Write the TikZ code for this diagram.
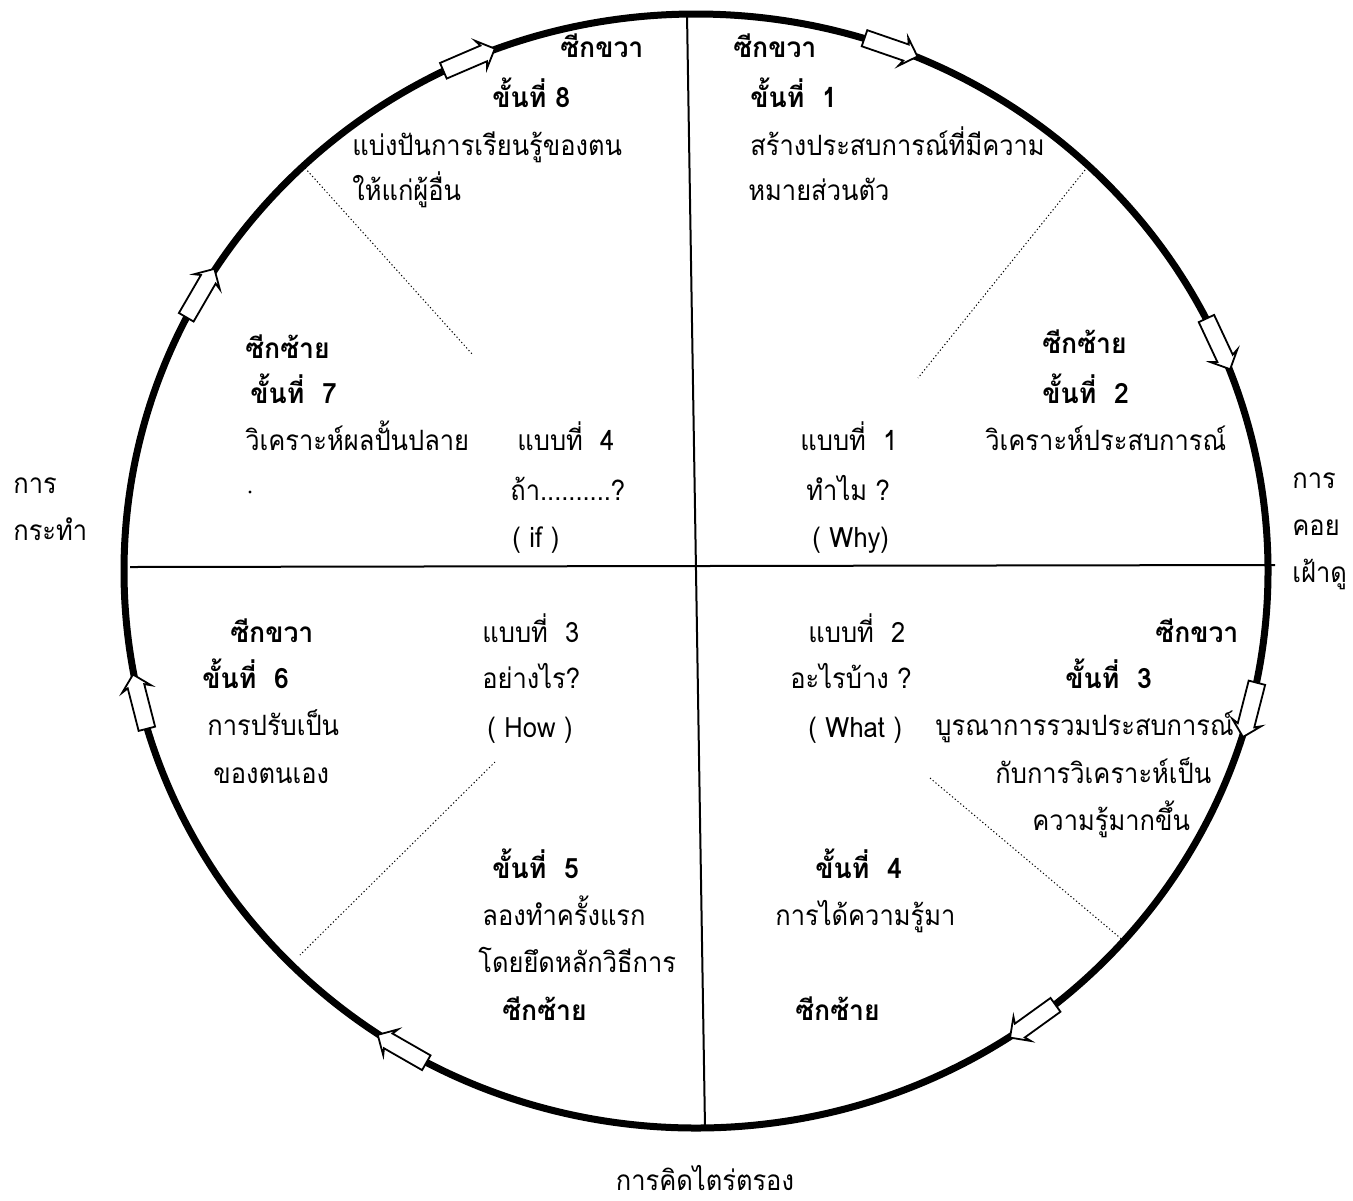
\documentclass[tikz,border=0pt]{standalone}
\usepackage{fontspec}
\newfontfamily\thaifont[Script=Thai,FakeStretch=0.91]{Loma}
\newfontfamily\thaibold[Script=Thai,FakeStretch=0.95,UprightFont=*,BoldFont=* Bold]{Loma}
\usetikzlibrary{shapes.arrows}
\tikzset{
  txt/.style={anchor=base west, inner sep=0pt, font=\thaifont\fontsize{14pt}{16pt}\selectfont},
  btxt/.style={txt, font=\thaibold\bfseries\fontsize{14pt}{16pt}\selectfont},
  ring/.style={line width=3.5pt},
  axis/.style={line width=1pt},
  dotline/.style={line width=0.5pt, dash pattern=on 0.6pt off 1.2pt},
  flowarrow/.style={single arrow, draw, fill=white, line width=0.9pt,
    minimum height=28pt, inner sep=3.8pt, single arrow head extend=3.2pt,
    single arrow head indent=1.4pt}
}
\begin{document}
\begin{tikzpicture}[x=0.5pt,y=-0.5pt]
\fill[white] (0,0) rectangle (1353,1200);
\useasboundingbox (0,0) rectangle (1353,1200);

% main ring
\draw[ring] (696,571) ellipse [x radius=572, y radius=557];

% axes
\coordinate (top) at (687,14);
\coordinate (bot) at (705,1128);
\coordinate (lft) at (130,567);
\coordinate (rgt) at (1275,565);
\draw[axis] (top) -- (bot);
\draw[axis] (lft) -- (rgt);

% dotted dividers
\coordinate (tla) at (305,168); \coordinate (tlb) at (473,355);
\coordinate (tra) at (1085,170); \coordinate (trb) at (918,378);
\coordinate (bla) at (495,762); \coordinate (blb) at (300,955);
\coordinate (bra) at (930,778); \coordinate (brb) at (1125,942);
\draw[dotline] (tla) -- (tlb);
\draw[dotline] (tra) -- (trb);
\draw[dotline] (bla) -- (blb);
\draw[dotline] (bra) -- (brb);

% hollow arrows on the ring (clockwise)
\foreach \t [count=\i] in {113.8,70.5,24.5,-14,-53.5,-120.5,-166,150.5} {
  \pgfmathsetmacro\px{696+572*cos(\t)}
  \pgfmathsetmacro\py{571-557*sin(\t)}
  \pgfmathsetmacro\rr{atan2(-557*cos(\t),572*sin(\t))}
  \node[flowarrow, rotate=\rr] (arr\i) at (\px,\py) {};
}

% small speck
\fill (250,492) circle [radius=1.6];

% top right quadrant
\node[btxt] (tr1) at (733,57) {ซีกขวา};
\node[btxt] (tr2) at (750,107) {ขั้นที่\ \ 1};
\node[txt] (tr3) at (750,155) {สร้างประสบการณ์ที่มีความ};
\node[txt] (tr4) at (748,200) {หมายส่วนตัว};

% top left quadrant
\node[btxt] (tl1) at (560,57) {ซีกขวา};
\node[btxt] (tl2) at (492,107) {ขั้นที่ 8};
\node[txt] (tl3) at (352,155) {แบ่งปันการเรียนรู้ของตน};
\node[txt] (tl4) at (352,200) {ให้แก่ผู้อื่น};

% left upper
\node[btxt] (l1) at (245,358) {ซีกซ้าย};
\node[btxt] (l2) at (250,403) {ขั้นที่\ \ 7};
\node[txt] (l3) at (245,450) {วิเคราะห์ผลปั้นปลาย};
\node[txt] (m4a) at (517,450) {แบบที่\ \ 4};
\node[txt] (m4b) at (510,500) {ถ้า..........?};
\node[txt] (m4c) at (512,547) {( if )};

% right upper
\node[btxt] (r1) at (1042,353) {ซีกซ้าย};
\node[btxt] (r2) at (1042,403) {ขั้นที่\ \ 2};
\node[txt] (r3) at (985,450) {วิเคราะห์ประสบการณ์};
\node[txt] (m1a) at (800,450) {แบบที่\ \ 1};
\node[txt] (m1b) at (806,500) {ทำไม ?};
\node[txt] (m1c) at (812,547) {( Why)};

% outside labels
\node[txt] (oR1) at (1292,488) {การ};
\node[txt] (oR2) at (1292,535) {คอย};
\node[txt] (oR3) at (1292,582) {เฝ้าดู};
\node[txt] (oL1) at (13,493) {การ};
\node[txt] (oL2) at (13,540) {กระทำ};
\node[txt, anchor=base] (oB) at (705,1190) {การคิดไตร่ตรอง};

% bottom left quadrant
\node[btxt] (bl1) at (230,642) {ซีกขวา};
\node[btxt] (bl2) at (202,688) {ขั้นที่\ \ 6};
\node[txt] (bl3) at (207,735) {การปรับเป็น};
\node[txt] (bl4) at (213,783) {ของตนเอง};
\node[txt] (m3a) at (482,642) {แบบที่\ \ 3};
\node[txt] (m3b) at (482,688) {อย่างไร?};
\node[txt] (m3c) at (487,737) {( How )};
\node[btxt] (b51) at (492,878) {ขั้นที่\ \ 5};
\node[txt] (b52) at (482,925) {ลองทำครั้งแรก};
\node[txt] (b53) at (478,972) {โดยยึดหลักวิธีการ};
\node[btxt] (b54) at (502,1020) {ซีกซ้าย};

% bottom right quadrant
\node[txt] (m2a) at (808,642) {แบบที่\ \ 2};
\node[txt] (m2b) at (790,688) {อะไรบ้าง ?};
\node[txt] (m2c) at (808,737) {( What )};
\node[btxt] (br1) at (1155,642) {ซีกขวา};
\node[btxt] (br2) at (1065,688) {ขั้นที่\ \ 3};
\node[txt] (br3) at (935,735) {บูรณาการรวมประสบการณ์};
\node[txt] (br4) at (995,783) {กับการวิเคราะห์เป็น};
\node[txt] (br5) at (1032,830) {ความรู้มากขึ้น};
\node[btxt] (b41) at (815,878) {ขั้นที่\ \ 4};
\node[txt] (b42) at (775,925) {การได้ความรู้มา};
\node[btxt] (b43) at (795,1020) {ซีกซ้าย};
\end{tikzpicture}
\end{document}
